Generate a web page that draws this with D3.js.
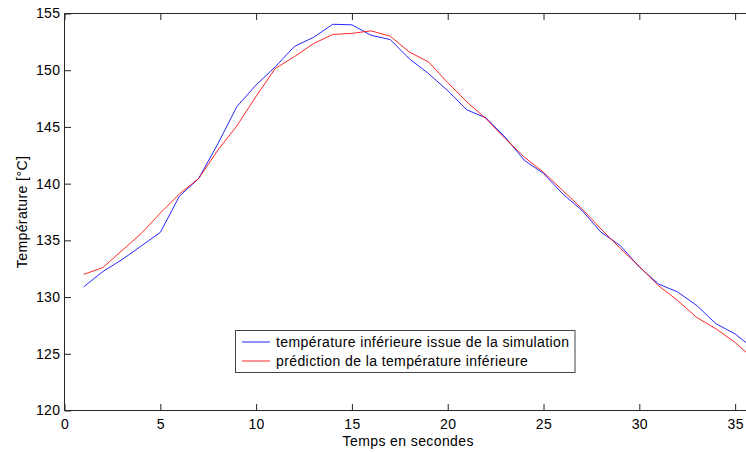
<!DOCTYPE html>
<html>
<head>
<meta charset="utf-8">
<script src="https://cdn.jsdelivr.net/npm/d3@7"></script>
<style>
html,body{margin:0;padding:0;background:#fff;}
svg{display:block;font-family:"Liberation Sans",Arial,sans-serif;}
</style>
</head>
<body>
<svg id="chart" width="746" height="452"></svg>
<script>
const times = [1,2,3,4,5,6,7,8,9,10,11,12,13,14,15,16,17,18,19,20,21,22,23,24,25,26,27,28,29,30,31,32,33,34,35,36];
const simulation = [130.9,132.25,133.3,134.5,135.7,138.9,140.45,143.5,146.8,148.7,150.3,152.1,152.9,154.05,154.0,153.08,152.7,151.0,149.7,148.2,146.5,145.8,144.1,142.05,140.9,139.1,137.65,135.72,134.55,132.65,131.15,130.45,129.25,127.65,126.75,125.4];
const prediction = [132.0,132.6,134.1,135.6,137.4,139.1,140.45,142.95,145.1,147.7,150.15,151.2,152.35,153.15,153.25,153.47,153.0,151.6,150.73,148.9,147.2,145.73,143.97,142.34,141.0,139.4,137.8,136.0,134.3,132.7,131.0,129.7,128.2,127.2,126.0,124.5];
const xTicks = [0,5,10,15,20,25,30,35];
const yTicks = [120,125,130,135,140,145,150,155];
const legendLabels = ["température inférieure issue de la simulation","prédiction de la température inférieure"];
const colors = ["#0000ff","#ff0000"];

const svg = d3.select("#chart");
const L = 64.5, T = 13.5, B = 410.5, R = 754.3;
const x = d3.scaleLinear().domain([0,36]).range([L,R]);
const y = d3.scaleLinear().domain([120,155]).range([B,T]);

const axisColor = "#262626";
const fs = "14px";
const ls = "0.4px";

// frame: left, bottom, top
svg.append("line").attr("x1",L).attr("x2",L).attr("y1",T).attr("y2",B).attr("stroke",axisColor);
svg.append("line").attr("x1",L).attr("x2",R).attr("y1",B).attr("y2",B).attr("stroke",axisColor);
svg.append("line").attr("x1",L).attr("x2",R).attr("y1",T).attr("y2",T).attr("stroke",axisColor);

// bottom axis (inward ticks)
const xb = svg.append("g").attr("transform",`translate(0,${B})`)
  .call(d3.axisBottom(x).tickValues(xTicks).tickSizeInner(-6.5).tickSizeOuter(0).tickPadding(9).tickFormat(d3.format("d")));
xb.select(".domain").remove();
xb.selectAll("line").attr("stroke",axisColor);
xb.selectAll("text").attr("font-size",fs).attr("letter-spacing",ls).attr("fill","#000").attr("font-family","Liberation Sans, Arial, sans-serif");

// top ticks
const xt = svg.append("g").attr("transform",`translate(0,${T})`)
  .call(d3.axisTop(x).tickValues(xTicks).tickSizeInner(-6.5).tickSizeOuter(0).tickFormat(""));
xt.select(".domain").remove();
xt.selectAll("line").attr("stroke",axisColor);

// left axis
const yl = svg.append("g").attr("transform",`translate(${L},0)`)
  .call(d3.axisLeft(y).tickValues(yTicks).tickSizeInner(-6.5).tickSizeOuter(0).tickPadding(4).tickFormat(d3.format("d")));
yl.select(".domain").remove();
yl.selectAll("line").attr("stroke",axisColor);
yl.selectAll("text").attr("font-size",fs).attr("letter-spacing",ls).attr("fill","#000").attr("font-family","Liberation Sans, Arial, sans-serif");

// clip
svg.append("clipPath").attr("id","clip").append("rect").attr("x",L).attr("y",T).attr("width",R-L).attr("height",B-T);

const line = d3.line().x((d,i)=>x(times[i])).y(d=>y(d));
const g = svg.append("g").attr("clip-path","url(#clip)");
[simulation,prediction].forEach((s,i)=>{
  g.append("path").datum(s).attr("d",line).attr("fill","none").attr("stroke",colors[i]).attr("stroke-width",1).attr("stroke-opacity",0.85);
});

// axis labels
svg.append("text").attr("x",(L+746)/2+3).attr("y",446).attr("text-anchor","middle").attr("font-size",fs).attr("letter-spacing",ls).text("Temps en secondes");
svg.append("text").attr("transform",`translate(27,${(T+B)/2}) rotate(-90)`).attr("text-anchor","middle").attr("font-size",fs).attr("letter-spacing",ls).text("Température [°C]");

// legend
const lg = svg.append("g");
lg.append("rect").attr("x",235.5).attr("y",330.5).attr("width",339.5).attr("height",42).attr("fill","#fff").attr("stroke","#444");
legendLabels.forEach((t,i)=>{
  const yy = 342 + i*19;
  lg.append("line").attr("x1",242).attr("x2",270).attr("y1",yy).attr("y2",yy).attr("stroke",colors[i]).attr("stroke-opacity",0.85);
  lg.append("text").attr("x",276).attr("y",yy+5).attr("font-size",fs).attr("letter-spacing",ls).text(t);
});
</script>
</body>
</html>
